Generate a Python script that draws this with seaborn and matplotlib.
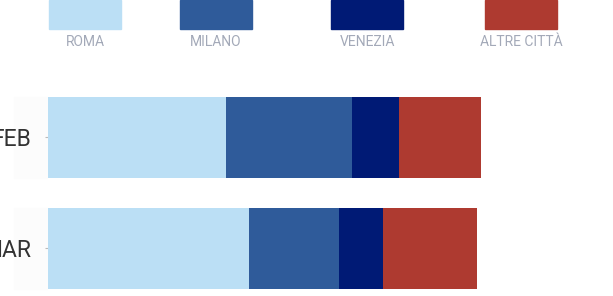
import pandas as pd
import seaborn as sns
import matplotlib.pyplot as plt
from matplotlib.patches import Rectangle

months = ["FEB", "MAR"]
series = ["ROMA", "MILANO", "VENEZIA", "ALTRE CITTÀ"]
roma = [178, 201]
milano = [126, 90]
venezia = [47, 44]
altre = [82, 94]
colors = ["#bbdff5", "#2f5b9a", "#001a75", "#ae3a30"]

df = pd.DataFrame({"month": months, "ROMA": roma, "MILANO": milano,
                   "VENEZIA": venezia, "ALTRE CITTÀ": altre})
cum = df[series].cumsum(axis=1)
cum["month"] = df["month"]

sns.set_style("white")
plt.rcParams["font.family"] = ["Roboto", "DejaVu Sans"]

W, H = 613, 296
fig = plt.figure(figsize=(W / 100, H / 100), dpi=100)
ax = fig.add_axes([48 / W, 0, 1 - 48 / W, 236 / H])

# stacked bars: draw cumulative totals from the outermost in
for name, col in reversed(list(zip(series, colors))):
    sns.barplot(data=cum, x=name, y="month", orient="h", color=col,
                width=0.73, linewidth=0, saturation=1, ax=ax)

ax.set_xlim(0, W - 48)
ax.set_ylim(1.428, -0.698)
ax.set_xlabel("")
ax.set_ylabel("")
ax.set_xticks([])
sns.despine(ax=ax, left=True, bottom=True)
ax.tick_params(axis="y", length=2, width=0.8, color="#bbbbbb", pad=10,
               labelsize=16.5, labelcolor="#333333", left=True)

# faint band behind the month labels
for yc in [137.5, 248.5]:
    fig.patches.append(Rectangle((14 / W, (H - yc - 40.5) / H), 34 / W, 81 / H,
                                 transform=fig.transFigure, color="#fcfcfc",
                                 zorder=-1))

# legend across the top
leg_x = [(49, 121), (180, 252), (331, 403), (485, 557)]
for (x0, x1), name, col in zip(leg_x, series, colors):
    fig.patches.append(Rectangle((x0 / W, (H - 29) / H), (x1 - x0) / W, 29 / H,
                                 transform=fig.transFigure, color=col))
    fig.text((x0 + x1) / 2 / W, (H - 42) / H, name, ha="center", va="center",
             fontsize=10, color="#a3a9b8")

fig.savefig("out.png", dpi=100)
